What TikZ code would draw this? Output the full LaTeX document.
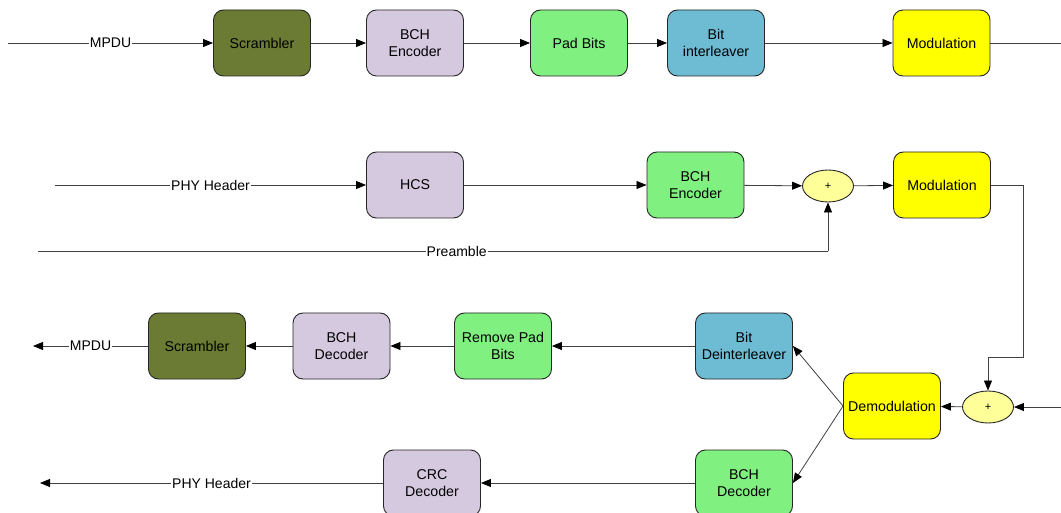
\documentclass[tikz,border=0pt]{standalone}
\usepackage{fontspec}
\setmainfont{Liberation Sans}
\usetikzlibrary{arrows.meta,shapes.geometric}
\definecolor{olive}{HTML}{6B7B33}
\definecolor{lav}{HTML}{D5C9E0}
\definecolor{lgreen}{HTML}{80F080}
\definecolor{lblue}{HTML}{6DBCD4}
\definecolor{yel}{HTML}{FFFF00}
\definecolor{pyel}{HTML}{FFFF99}
\tikzset{
  blk/.style={draw=black!85, line width=0.9pt, rounded corners=10pt, minimum width=97pt, minimum height=66pt, align=center, inner sep=2pt, font=\fontsize{14.2}{17.5}\selectfont},
  sumnode/.style={ellipse, draw=black!85, line width=0.9pt, fill=pyel, minimum width=51pt, minimum height=32pt, inner sep=0pt, font=\fontsize{11}{13}\selectfont},
  conn/.style={draw=black!75, line width=0.8pt},
  arr/.style={conn, -{Triangle[length=10pt,width=8pt,color=black]}},
  lbl/.style={fill=white, inner sep=1pt, font=\fontsize{14}{17}\selectfont}
}
\begin{document}
\begin{tikzpicture}[x=1pt,y=-1pt]
\useasboundingbox[fill=white] (0,0) rectangle (1061,513);
% row 1
\node[blk, fill=olive] (scr1) at (262,43) {Scrambler};
\node[blk, fill=lav] (bche1) at (415,43) {BCH\\Encoder};
\node[blk, fill=lgreen] (pad) at (579,43) {Pad Bits};
\node[blk, fill=lblue] (bil) at (716,43) {Bit\\interleaver};
\node[blk, fill=yel] (mod1) at (941.5,43) {Modulation};
\coordinate (in1) at (8,43);
\coordinate (out1) at (1061,43);
% row 2
\node[blk, fill=lav] (hcs) at (415,185) {HCS};
\node[blk, fill=lgreen] (bche2) at (695.5,185) {BCH\\Encoder};
\node[sumnode] (plus1) at (828,186) {+};
\node[blk, fill=yel] (mod2) at (942,185) {Modulation};
\coordinate (in2) at (55,185);
\coordinate (pre) at (38,251);
\coordinate (pc) at (828,251);
\coordinate (c1) at (1023,357);
% row 3
\node[blk, fill=olive] (scr3) at (197,346) {Scrambler};
\node[blk, fill=lav] (bchd1) at (341.5,346) {BCH\\Decoder};
\node[blk, fill=lgreen] (rpb) at (503,346) {Remove Pad\\Bits};
\node[blk, fill=lblue] (bdi) at (744,346) {Bit\\Deinterleaver};
\node[blk, fill=yel] (demod) at (892,406) {Demodulation};
\node[sumnode] (plus2) at (988,407) {+};
\coordinate (rin) at (1061,407);
\coordinate (out3) at (33,346);
% row 4
\node[blk, fill=lgreen] (bchd2) at (744,483) {BCH\\Decoder};
\node[blk, fill=lav] (crc) at (432,483) {CRC\\Decoder};
\coordinate (out4) at (40,483);
% connectors row 1
\draw[arr] (in1) -- node[lbl]{MPDU} (scr1);
\draw[arr] (scr1) -- (bche1);
\draw[arr] (bche1) -- (pad);
\draw[arr] (pad) -- (bil);
\draw[arr] (bil) -- (mod1);
\draw[conn] (mod1) -- (out1);
% row 2
\draw[arr] (in2) -- node[lbl]{PHY Header} (hcs);
\draw[arr] (hcs) -- (bche2);
\draw[arr] (bche2) -- (plus1);
\draw[arr] (plus1) -- (mod2);
\draw[conn] (pre) -- node[lbl, pos=0.53]{Preamble} (pc);
\draw[arr] (pc) -- (plus1);
\draw[arr] (mod2.east) -| (c1) -| (plus2.north);
% row 3
\draw[arr] (rin) -- (plus2);
\draw[arr] (plus2) -- (demod);
\draw[arr] (demod.west) -- (bdi.east);
\draw[arr] (demod.west) -- (bchd2.east);
\draw[arr] (bdi) -- (rpb);
\draw[arr] (rpb) -- (bchd1);
\draw[arr] (bchd1) -- (scr3);
\draw[arr] (scr3) -- node[lbl]{MPDU} (out3);
% row 4
\draw[arr] (bchd2) -- (crc);
\draw[arr] (crc) -- node[lbl]{PHY Header} (out4);
\end{tikzpicture}
\end{document}
